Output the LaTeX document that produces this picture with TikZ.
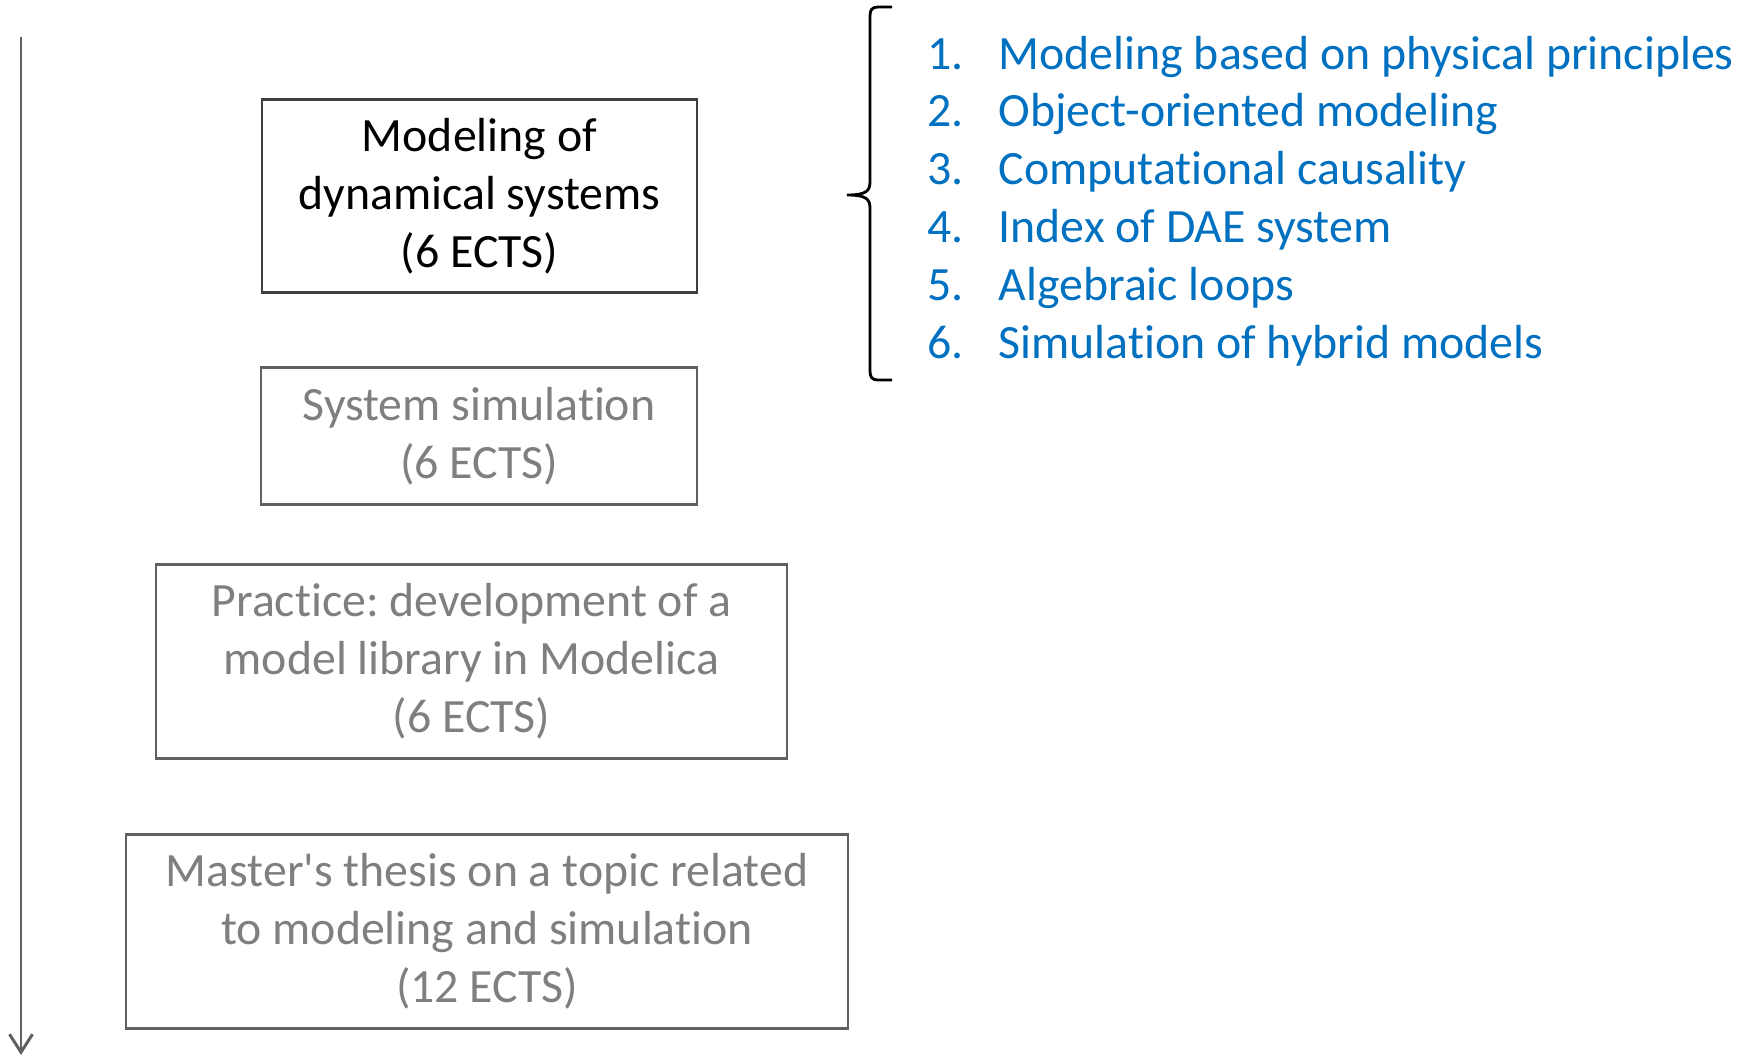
\documentclass[tikz,border=0pt]{standalone}
\usepackage{fontspec}
\setmainfont[Ligatures=NoCommon]{Carlito}
\usetikzlibrary{arrows.meta}
\definecolor{itemblue}{HTML}{0070C0}
\definecolor{paletext}{HTML}{7F7F7F}
\definecolor{paleline}{HTML}{606060}
\definecolor{darkline}{HTML}{404040}
\frenchspacing
\begin{document}
\begin{tikzpicture}[
    course/.style={draw=paleline, line width=0.8pt, text=paletext, align=center,
      inner sep=0pt, font=\fontsize{13.6pt}{16.5pt}\selectfont},
    current/.style={course, draw=darkline, text=black},
    topic/.style={anchor=base west, inner sep=0pt, text=itemblue,
      font=\fontsize{13.6pt}{16.5pt}\selectfont}
  ]
    \useasboundingbox (0.000000,0.000000) rectangle (17.510000,-10.560000);
    {
    % Time axis on the left
    \coordinate (axistop) at (0.210000,-0.370000);%
    \coordinate (axisend) at (0.210000,-10.550000);%
    \draw [line width=0.85pt, draw=paleline, -{Straight Barb[length=1.8mm,width=2.3mm]}] (axistop) -- (axisend);%

    % Course boxes
    \node (dynsys) at (4.795000,-1.960000) [current, minimum width=4.35cm, minimum height=1.93cm]
      {Modeling of\\dynamical systems\\(6 ECTS)};%
    \node (syssim) at (4.790000,-4.360000) [course, minimum width=4.36cm, minimum height=1.37cm]
      {System simulation\\(6 ECTS)};%
    \node (practice) at (4.715000,-6.615000) [course, minimum width=6.31cm, minimum height=1.94cm]
      {Practice: development of a\\model library in Modelica\\(6 ECTS)};%
    \node (thesis) at (4.870000,-9.315000) [course, minimum width=7.22cm, minimum height=1.94cm]
      {Master\textquotesingle s thesis on a topic related\\to modeling and simulation\\(12 ECTS)};%

    % Brace grouping the topics
    \draw [line width=0.8pt] (8.920000,-0.070000) -- (8.780000,-0.070000)
      .. controls (8.720000,-0.070000) and (8.700000,-0.100000) .. (8.700000,-0.160000)
      -- (8.700000,-1.820000)
      .. controls (8.700000,-1.910000) and (8.660000,-1.950000) .. (8.470000,-1.950000)
      .. controls (8.660000,-1.950000) and (8.700000,-1.990000) .. (8.700000,-2.080000)
      -- (8.700000,-3.710000)
      .. controls (8.700000,-3.770000) and (8.720000,-3.800000) .. (8.780000,-3.800000)
      -- (8.920000,-3.800000);%

    % Topics of the course
    \foreach \k/\txt in {1/Modeling based on physical principles,
                          2/Object-oriented modeling,
                          3/Computational causality,
                          4/Index of DAE system,
                          5/Algebraic loops,
                          6/Simulation of hybrid models}{
      \node (num\k) at (9.270000,{-0.690000-0.578000*(\k-1)}) [topic] {\k.};%
      \node (topic\k) at (9.980000,{-0.690000-0.578000*(\k-1)}) [topic] {\txt};%
    }
    }
\end{tikzpicture}
\end{document}
